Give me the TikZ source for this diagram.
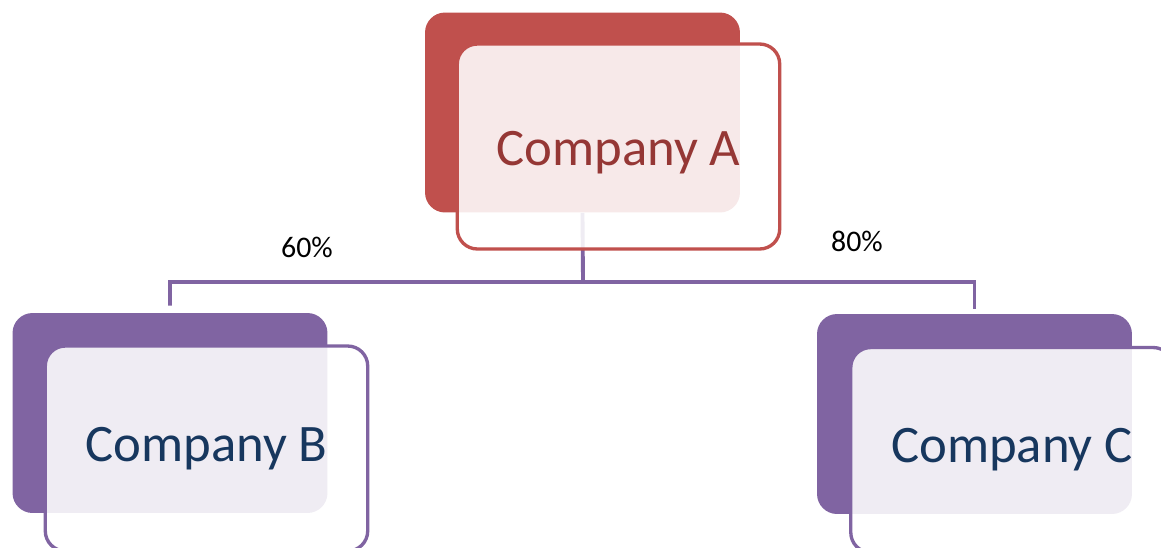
\documentclass[tikz,border=0pt]{standalone}
\usepackage{fontspec}
\setmainfont{Carlito}
\definecolor{redA}{HTML}{C0504D}
\definecolor{redtext}{HTML}{953735}
\definecolor{purp}{HTML}{8064A2}
\definecolor{navy}{HTML}{17375E}
\begin{document}
\begin{tikzpicture}[x=0.02cm, y=-0.02cm,
  backbox/.style={rectangle, rounded corners=0.4cm, minimum width=6.3cm, minimum height=4cm, fill=#1, draw=none},
  frontbox/.style={rectangle, rounded corners=0.4cm, minimum width=6.45cm, minimum height=4.1cm, draw=#1, line width=1.9pt, fill=white, fill opacity=0.88, text opacity=1, font=\fontsize{30}{36}\selectfont},
  conn/.style={draw=purp, line width=2.2pt},
  pct/.style={font=\fontsize{17}{20}\selectfont}]
\useasboundingbox (0,0) rectangle (1161,548);
\clip (0,0) rectangle (1161,548);
\node[backbox=redA](backA) at (582.5,112.5){};
\node[backbox=purp](backB) at (170,413){};
\node[backbox=purp](backC) at (974.5,414){};
\coordinate (bus) at (583,282);
\draw[conn] (backA.south) -- (bus) -| ([yshift=0.14cm]backB.north);
\draw[conn] (bus) -| ([yshift=0.1cm]backC.north);
\node[frontbox=redA, text=redtext, text height=0.85cm, text depth=0.1cm](A) at (618.5,146.5){Company A};
\node[frontbox=purp, text=navy](B) at (206.5,448.5){Company B};
\node[frontbox=purp, text=navy](C) at (1012,450){Company C};
\node[pct](p60) at (307,247){60\%};
\node[pct](p80) at (857,241){80\%};
\end{tikzpicture}
\end{document}
